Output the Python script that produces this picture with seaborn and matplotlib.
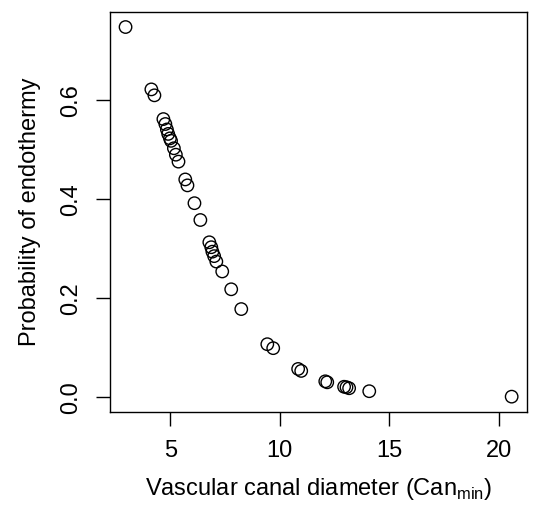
import numpy as np
import pandas as pd
import matplotlib
matplotlib.use("Agg")
import matplotlib.pyplot as plt
import seaborn as sns

# values
canal_diameter = [2.95, 4.13, 4.27, 4.68, 4.77, 4.84, 4.90, 4.98, 5.03, 5.16, 5.25, 5.37,
                  5.68, 5.78, 6.10, 6.37, 6.78, 6.87, 6.92, 7.00, 7.10, 7.37, 7.78,
                  8.24, 9.43, 9.70, 10.84, 10.98, 12.08, 12.17, 12.94, 13.05, 13.17,
                  14.09, 20.60]
p_endothermy = [0.748, 0.622, 0.610, 0.562, 0.552, 0.541, 0.532, 0.523, 0.518, 0.503, 0.490,
                0.476, 0.440, 0.428, 0.392, 0.358, 0.313, 0.303, 0.294, 0.285, 0.274,
                0.254, 0.218, 0.178, 0.107, 0.099, 0.057, 0.053, 0.032, 0.030, 0.021,
                0.020, 0.018, 0.012, 0.001]

df = pd.DataFrame({"x": canal_diameter, "y": p_endothermy})

sns.set_style("white")
plt.rcParams['font.family'] = ['Liberation Sans', 'DejaVu Sans']
plt.rcParams['mathtext.fontset'] = 'custom'
plt.rcParams['mathtext.rm'] = 'Liberation Sans'

fig = plt.figure(figsize=(5.33, 5.08), dpi=100)
ax = fig.add_axes([0.2064, 0.189, 0.7823, 0.787])

sns.scatterplot(data=df, x="x", y="y", ax=ax, s=80, facecolors="none",
                edgecolor="black", linewidth=1.0)

ax.set_xlim(2.24, 21.3)
ax.set_ylim(-0.030, 0.778)
ax.set_xticks([5, 10, 15, 20])
ax.set_yticks([0.0, 0.2, 0.4, 0.6])
ax.set_yticklabels(["0.0", "0.2", "0.4", "0.6"], rotation=90, va="center")
ax.tick_params(axis="both", direction="out", length=10, width=1.0, labelsize=17,
               color="black", labelcolor="black", pad=10, left=True, bottom=True)
for sp in ax.spines.values():
    sp.set_color("black")
    sp.set_linewidth(1.0)

ax.set_xlabel(r"Vascular canal diameter (Can$_{\mathrm{min}}$)", fontsize=17,
              color="black", labelpad=10)
ax.set_ylabel("Probability of endothermy", fontsize=17, color="black", labelpad=14)

fig.savefig("out.png", dpi=100)
